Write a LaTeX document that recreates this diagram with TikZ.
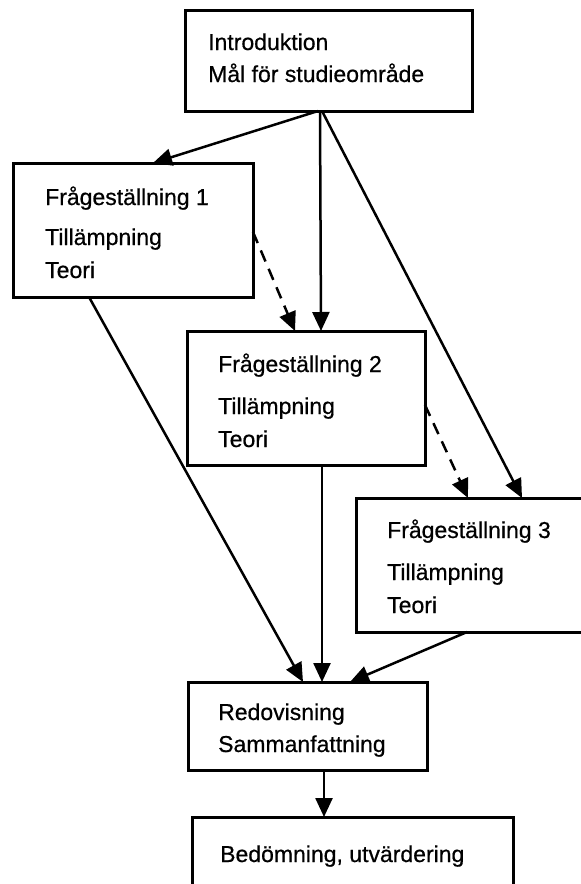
\documentclass[tikz,border=0pt]{standalone}
\usepackage{fontspec}
\setmainfont{Liberation Sans}
\newfontfamily\heavyfont[FakeBold=0.6]{Liberation Sans}
\usetikzlibrary{arrows.meta}
\begin{document}
\begin{tikzpicture}[x=1pt,y=-1pt,
  box/.style={draw, line width=3pt, inner sep=0pt, outer sep=0pt, anchor=north west},
  txt/.style={inner sep=0pt, anchor=base west, font=\heavyfont\fontsize{23}{28}\selectfont},
  arr/.style={line width=2.5pt, -{Triangle[length=19pt,width=17pt]}},
  darr/.style={arr, dash pattern=on 12pt off 8pt}]
\clip (0,0) rectangle (581,884);
\fill[white] (0,0) rectangle (581,884);
% boxes
\node[box, minimum width=287pt, minimum height=101pt] (intro) at (185,10) {};
\node[box, minimum width=240pt, minimum height=134pt] (f1) at (13,163) {};
\node[box, minimum width=238pt, minimum height=134pt] (f2) at (187,331) {};
\node[box, minimum width=244pt, minimum height=134pt] (f3) at (356,498) {};
\node[box, minimum width=239pt, minimum height=88pt] (red) at (188,682) {};
\node[box, minimum width=321pt, minimum height=90pt] (bed) at (192,817) {};
% texts
\node[txt] (ti1) at (208,50) {Introduktion};
\node[txt] (ti2) at (208,82) {Mål för studieområde};
\node[txt] (ta1) at (45,205) {Frågeställning 1};
\node[txt] (ta2) at (45,245) {Tillämpning};
\node[txt] (ta3) at (45,278) {Teori};
\node[txt] (tb1) at (218,372) {Frågeställning 2};
\node[txt] (tb2) at (218,414) {Tillämpning};
\node[txt] (tb3) at (218,447) {Teori};
\node[txt] (tc1) at (387,538) {Frågeställning 3};
\node[txt] (tc2) at (387,580) {Tillämpning};
\node[txt] (tc3) at (387,613) {Teori};
\node[txt] (tr1) at (218,720) {Redovisning};
\node[txt] (tr2) at (218,752) {Sammanfattning};
\node[txt] (td1) at (220,862) {Bedömning, utvärdering};
% connectors
\draw[arr] ([xshift=133pt]intro.south west) -- ([xshift=140pt]f1.north west);
\draw[arr] ([xshift=135pt]intro.south west) -- ([xshift=134pt]f2.north west);
\draw[arr] ([xshift=137pt]intro.south west) -- ([xshift=166pt]f3.north west);
\draw[darr] ([yshift=-69pt]f1.north east) -- ([xshift=108pt]f2.north west);
\draw[darr] ([yshift=-74pt]f2.north east) -- ([xshift=112pt]f3.north west);
\draw[arr] ([xshift=76pt]f1.south west) -- ([xshift=115pt]red.north west);
\draw[arr] ([xshift=135pt]f2.south west) -- ([xshift=134pt]red.north west);
\draw[arr] ([xshift=111pt]f3.south west) -- ([xshift=162pt]red.north west);
\draw[arr] ([xshift=136pt]red.south west) -- ([xshift=132pt]bed.north west);
\end{tikzpicture}
\end{document}
